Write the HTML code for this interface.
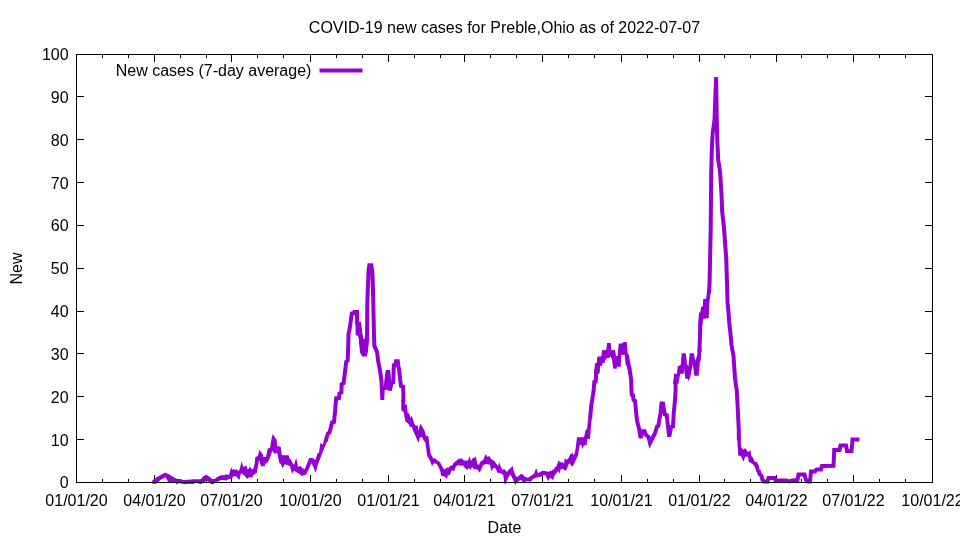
<!DOCTYPE html>
<html lang="en"><head><meta charset="utf-8"><title>COVID-19 new cases for Preble,Ohio</title>
<style>html,body{margin:0;padding:0;background:#fff}body{width:960px;height:540px;overflow:hidden}svg{display:block;will-change:transform}text{font-family:"Liberation Sans", sans-serif;font-size:16px;fill:#000}</style>
</head><body>
<svg width="960" height="540" viewBox="0 0 960 540">
<rect width="960" height="540" fill="#fff"/>
<path d="M154.5 482.5V475.0M154.5 54.5V62.0M231.5 482.5V475.0M231.5 54.5V62.0M310.5 482.5V475.0M310.5 54.5V62.0M388.5 482.5V475.0M388.5 54.5V62.0M464.5 482.5V475.0M464.5 54.5V62.0M542.5 482.5V475.0M542.5 54.5V62.0M621.5 482.5V475.0M621.5 54.5V62.0M699.5 482.5V475.0M699.5 54.5V62.0M776.5 482.5V475.0M776.5 54.5V62.0M853.5 482.5V475.0M853.5 54.5V62.0M102.5 482.5V478.9M102.5 54.5V58.1M128.5 482.5V478.9M128.5 54.5V58.1M180.5 482.5V478.9M180.5 54.5V58.1M206.5 482.5V478.9M206.5 54.5V58.1M257.5 482.5V478.9M257.5 54.5V58.1M283.5 482.5V478.9M283.5 54.5V58.1M336.5 482.5V478.9M336.5 54.5V58.1M362.5 482.5V478.9M362.5 54.5V58.1M414.5 482.5V478.9M414.5 54.5V58.1M440.5 482.5V478.9M440.5 54.5V58.1M490.5 482.5V478.9M490.5 54.5V58.1M516.5 482.5V478.9M516.5 54.5V58.1M568.5 482.5V478.9M568.5 54.5V58.1M594.5 482.5V478.9M594.5 54.5V58.1M647.5 482.5V478.9M647.5 54.5V58.1M673.5 482.5V478.9M673.5 54.5V58.1M724.5 482.5V478.9M724.5 54.5V58.1M750.5 482.5V478.9M750.5 54.5V58.1M801.5 482.5V478.9M801.5 54.5V58.1M827.5 482.5V478.9M827.5 54.5V58.1M879.5 482.5V478.9M879.5 54.5V58.1M905.5 482.5V478.9M905.5 54.5V58.1M76.5 439.5H84.0M932.5 439.5H925.0M76.5 396.5H84.0M932.5 396.5H925.0M76.5 353.5H84.0M932.5 353.5H925.0M76.5 311.5H84.0M932.5 311.5H925.0M76.5 268.5H84.0M932.5 268.5H925.0M76.5 225.5H84.0M932.5 225.5H925.0M76.5 182.5H84.0M932.5 182.5H925.0M76.5 139.5H84.0M932.5 139.5H925.0M76.5 96.5H84.0M932.5 96.5H925.0" stroke="#000" stroke-width="1" fill="none"/>
<g fill="none" stroke="#9400d3" stroke-width="4" stroke-linejoin="miter" stroke-miterlimit="3.8" stroke-linecap="butt">
<polyline points="325.6,441.5 326.5,438.0 328.0,433.5 329.5,432.5 331.0,427.0 332.0,422.5 334.0,422.0 334.5,417.0 335.2,410.0 335.7,403.0 336.2,398.3 338.9,398.3 339.5,393.6 341.4,392.6 341.6,384.2 343.6,383.2 344.5,376.0 345.6,367.0 346.2,361.8 347.7,360.6 347.9,354.0 348.3,344.0 348.5,334.0 349.5,329.3 350.8,320.7 351.8,313.5 353.5,313.2 354.2,312.0 357.0,312.0 357.2,322.7 359.9,334.7 361.0,336.5 361.0,342.7 362.0,352.0 363.4,354.6 365.2,354.6 366.0,350.7 367.0,340.7 367.1,334.0 367.3,304.0 368.0,285.0 368.6,270.0 369.3,265.3 371.3,265.3 372.3,272.0 373.0,290.0 373.3,304.0 374.0,334.0 374.3,345.5 377.2,352.5 378.1,360.7 379.9,370.0 380.7,375.5 381.5,381.5 382.0,392.0 382.3,399.8 382.6,392.0 382.9,388.3 385.8,388.0 386.2,382.0 387.5,372.0 388.4,372.0 389.0,380.0 389.8,390.6 390.5,387.5 391.5,383.0 393.2,382.3 393.5,375.0 393.8,365.3 395.3,365.3 396.0,361.3 397.8,361.3 398.3,366.0 399.2,370.0 400.2,380.0 401.0,386.0 403.0,386.6 403.3,392.0 403.4,402.0"/>
<polyline points="590.2,419.0 590.4,415.0 591.2,406.0 592.7,396.7 593.7,390.0 594.3,382.0 595.7,381.5 596.0,376.5 596.1,371.0 597.7,370.5 597.9,366.0"/>
<polyline points="629.2,366.0 629.7,370.0 631.1,379.3 631.5,390.0 631.7,394.8 633.0,395.2 633.6,400.2 635.0,400.8 635.5,406.0 636.9,420.0 639.3,430.0 640.4,436.4 641.2,436.4 642.6,431.2 644.6,431.2 646.0,435.0 648.5,437.0 650.0,443.0 653.0,437.0 655.0,433.3 657.0,426.7 658.3,426.0 659.3,420.0 660.5,413.3 661.5,403.4 663.0,403.4 664.2,411.0 664.8,414.5 666.8,415.2 667.6,423.0 668.5,431.0 669.3,436.6 670.5,430.0 671.0,427.0 673.0,426.5 673.7,413.3 675.0,400.0 675.6,390.0 675.6,380.0"/>
<polyline points="699.6,352.0 699.6,346.0 700.0,336.0 700.2,324.0"/>
<polyline points="709.0,293.0 709.6,282.0 710.7,228.0 711.2,174.0 711.8,150.0 712.6,134.0 714.5,120.0 716.1,77.0 716.8,120.0 717.3,140.0 718.2,160.0 719.5,168.0 720.2,174.0 721.5,194.0 722.2,212.0 724.0,228.0 725.0,242.0 726.2,258.0 727.0,282.0 727.5,302.0 728.5,312.0 729.2,322.0 730.5,334.0 731.5,345.0 733.5,356.0 734.2,366.0 735.0,378.0 736.0,386.0 736.8,390.0 737.8,410.0 738.8,430.0 738.8,436.0 738.9,440.0"/>
<polyline points="758.6,470.0 759.5,474.0 761.5,476.0 762.5,480.0 764.0,481.5 767.5,481.5 768.5,478.0 774.5,478.0 775.5,480.5 786.0,480.5 789.5,481.5 792.0,480.5 797.5,480.0 798.5,474.5 804.5,474.5 806.0,480.0 807.5,481.5 810.0,481.5 811.0,471.5 815.0,471.5 816.5,469.5 821.0,469.5 822.0,466.0 833.5,465.8 834.2,450.0 839.5,450.0 840.5,445.5 846.0,445.5 847.0,451.0 851.5,451.0 852.5,439.5 857.5,439.5 859.5,439.8"/>
</g>
<g fill="#9400d3" stroke="none">
<polygon points="152.3,480.3 156.7,477.3 160.7,475.0 165.3,472.5 168.7,474.3 172.0,476.3 176.7,478.7 180.0,479.0 183.3,480.0 188.7,479.8 193.3,479.3 200.7,479.3 203.3,476.3 206.0,474.8 208.7,476.0 212.0,479.0 214.7,479.0 217.3,477.0 220.7,475.3 224.7,475.3 225.7,473.9 228.0,475.3 229.3,474.0 230.3,470.0 231.3,467.3 232.3,470.0 233.3,469.0 235.0,470.0 236.3,469.0 238.0,471.0 239.3,470.3 240.7,465.3 241.5,461.3 243.3,467.0 245.7,465.7 246.7,466.0 247.3,469.3 249.0,468.7 249.7,466.3 251.3,468.7 252.7,469.3 253.7,468.0 254.7,463.3 255.3,457.3 258.0,455.7 259.3,449.7 263.0,454.7 263.3,457.0 266.0,457.0 267.7,448.7 270.0,447.7 271.3,440.0 272.7,434.0 276.7,440.0 277.0,446.0 280.7,446.7 281.7,455.0 284.0,455.3 288.7,455.3 289.3,458.3 290.7,459.3 292.7,463.3 294.0,464.7 296.2,458.0 298.0,466.7 301.0,466.0 302.0,468.0 304.7,469.3 306.3,465.3 309.0,458.3 312.3,457.7 315.3,460.0 317.7,453.0 319.0,452.7 320.3,443.0 322.7,444.7 324.0,440.0 327.7,440.0 326.0,444.0 324.0,448.7 320.7,457.3 318.0,464.0 315.7,473.0 313.3,466.7 311.3,463.3 309.3,468.0 306.0,474.7 301.3,476.0 300.7,474.7 297.3,472.7 294.0,470.7 292.0,473.7 290.0,466.3 287.3,465.0 284.7,464.3 282.7,468.3 280.7,463.7 279.3,463.3 277.3,452.7 274.3,453.7 272.3,450.7 271.3,454.0 269.0,460.0 267.3,462.7 265.3,464.0 264.7,466.3 261.0,466.3 259.0,460.0 258.0,466.3 256.7,473.0 253.3,475.0 252.3,477.3 249.0,477.3 247.3,479.0 244.0,475.3 241.0,473.3 239.3,480.3 236.7,476.7 234.0,476.0 231.3,478.7 228.7,479.0 226.0,480.7 224.0,480.0 221.0,480.0 218.0,481.5 215.0,483.2 212.0,484.4 210.0,483.0 208.0,481.3 205.3,481.3 203.3,482.7 200.7,484.3 198.0,483.3 195.3,483.0 192.7,484.3 190.0,483.7 184.7,484.3 182.0,483.7 178.7,483.0 176.7,484.7 175.3,482.5 170.0,482.0 168.0,481.7 167.0,479.7 165.7,477.3 164.0,478.0 160.0,480.3 158.7,481.7 156.0,483.7 152.3,483.7"/>
<polygon points="405.0,400.0 405.3,404.7 406.7,404.3 407.7,412.7 409.7,414.3 410.3,418.0 411.7,415.7 413.3,420.7 414.7,424.7 416.3,426.0 417.7,425.0 418.3,430.7 420.3,423.7 422.7,427.3 424.7,431.0 426.0,436.0 428.3,436.3 430.0,448.7 430.7,454.0 432.0,456.0 433.3,458.7 434.3,458.0 436.7,460.0 440.0,462.3 442.0,466.0 444.3,469.7 447.3,467.3 448.0,468.3 450.0,466.0 452.3,465.3 453.7,462.7 457.3,460.0 459.3,458.3 460.3,459.3 461.7,458.0 463.3,460.3 467.3,460.7 468.3,459.7 469.5,456.0 471.0,460.7 472.7,458.3 474.0,457.3 474.7,458.3 475.5,455.7 476.3,458.7 477.3,464.0 478.7,465.0 480.7,461.3 483.3,460.0 484.7,456.0 485.9,454.0 487.3,457.0 489.2,456.0 491.3,459.3 494.7,461.3 496.0,463.3 498.0,466.0 499.3,462.3 500.7,466.7 502.7,469.7 504.7,469.3 506.7,472.0 508.7,469.7 510.7,468.0 512.5,465.7 513.7,470.7 515.3,475.0 516.7,477.3 518.7,476.0 520.3,474.3 522.7,474.3 524.7,476.7 528.0,477.7 530.7,476.0 534.0,473.7 535.3,470.3 536.3,468.3 538.0,473.3 540.0,472.0 542.7,470.7 546.0,471.3 549.3,471.7 550.3,470.3 551.7,471.3 552.7,469.3 554.0,469.7 554.7,467.3 556.3,466.7 557.7,462.7 558.5,460.3 560.0,462.3 562.7,462.3 564.0,463.7 564.8,457.7 566.3,460.0 568.7,458.0 570.3,454.0 571.3,454.3 572.5,452.3 573.3,455.3 574.7,453.3 575.7,448.0 576.0,445.3 577.0,437.3 580.3,437.2 584.0,437.3 584.7,434.0 585.7,429.7 587.0,429.3 587.7,422.7 588.7,416.0 592.0,416.0 591.0,426.0 590.0,438.7 587.3,439.3 586.7,444.7 583.7,445.7 582.3,449.3 581.3,444.7 579.7,445.3 578.7,450.7 578.0,455.3 576.3,459.3 574.0,464.0 572.3,466.7 570.7,464.7 569.0,463.3 567.3,468.0 565.7,471.0 562.7,468.7 560.7,469.3 559.5,473.7 558.3,471.0 556.7,472.7 554.3,476.0 553.0,480.7 552.0,478.7 549.7,478.0 548.3,481.3 547.3,479.3 545.3,475.3 542.7,474.7 540.7,477.0 537.3,477.3 533.3,478.7 530.7,481.7 527.3,481.3 524.7,482.0 522.3,481.7 521.3,479.7 519.3,480.7 517.0,482.3 515.3,485.0 514.0,482.0 512.0,477.3 510.3,474.7 508.7,476.7 506.7,481.3 505.0,485.0 504.0,481.3 503.3,475.0 500.7,473.3 497.3,472.7 495.7,468.3 493.3,468.0 491.3,471.3 490.0,464.7 486.0,464.0 483.3,465.0 481.3,469.3 479.7,472.7 478.0,470.3 476.0,469.0 474.0,469.3 472.0,467.0 470.3,470.0 468.7,467.7 467.3,470.0 464.7,467.7 462.7,465.3 460.7,466.0 458.7,465.0 456.0,466.3 454.3,471.0 451.7,470.3 449.7,475.3 448.0,475.0 447.0,478.7 444.0,476.3 441.3,476.0 440.3,471.3 438.7,467.3 436.7,464.0 434.0,463.3 432.0,466.0 430.0,460.7 428.0,457.3 427.3,456.3 425.3,442.3 423.3,440.3 422.3,437.0 420.0,437.3 418.3,443.0 415.0,434.7 412.7,430.0 412.0,427.0 409.7,426.7 408.7,424.0 405.3,421.3 403.7,412.3 401.3,410.3 401.3,400.0"/>
<polygon points="740.7,436.0 741.0,446.7 743.3,449.7 745.0,448.0 748.0,452.0 750.5,450.0 751.3,456.0 752.7,457.3 754.7,461.7 756.7,462.0 758.7,465.3 759.7,470.7 761.0,472.0 756.3,472.0 755.0,467.3 752.7,464.0 748.7,461.7 748.0,456.7 745.0,456.7 743.7,461.7 740.7,455.7 738.3,455.7 737.7,446.0 737.0,436.0"/>
<polygon points="355.3,312.0 358.3,310.0 359.0,321.7 361.0,322.0 361.7,327.3 362.7,337.3 363.3,338.7 362.5,345.0 359.5,345.0 359.0,340.0 358.0,335.7 355.7,335.3"/>
<polygon points="362.5,338.7 365.5,338.7 365.5,352.0 362.5,352.0"/>
<polygon points="698.0,326.0 699.0,312.3 700.3,312.7 701.3,306.3 702.7,307.0 703.2,299.0 706.0,298.7 707.3,290.0 711.0,290.0 709.3,303.3 708.7,318.0 703.3,319.0 702.3,326.0"/>
<polygon points="594.0,374.0 595.0,363.3 596.7,363.0 597.3,356.7 601.3,356.3 602.0,350.3 606.3,350.0 607.0,343.0 610.7,343.0 611.3,350.0 613.7,350.3 615.0,349.7 616.0,356.0 617.7,355.7 618.7,343.7 622.7,343.3 623.3,342.1 626.7,342.1 627.7,353.7 628.7,354.3 630.0,361.3 631.3,368.7 632.0,374.0 628.7,374.0 627.0,366.0 625.7,365.3 624.7,354.7 621.3,355.0 620.7,366.7 617.0,366.7 616.7,368.8 613.3,368.7 612.0,360.0 610.7,356.3 609.7,357.7 607.0,358.0 605.3,360.3 604.7,362.7 602.7,363.0 602.0,365.7 600.0,366.0 599.3,374.0"/>
<polygon points="673.0,384.0 674.3,373.3 677.0,374.3 677.7,366.3 680.7,365.0 681.7,353.3 685.7,353.2 687.0,363.7 688.3,366.7 689.7,353.7 690.0,353.2 694.0,353.2 695.0,360.7 696.3,358.0 697.3,354.7 697.7,348.0 701.3,348.0 700.7,360.7 700.0,361.0 699.7,364.0 698.7,375.7 694.3,375.7 692.7,364.0 691.7,370.0 690.3,376.7 688.7,381.3 687.7,378.8 685.3,378.7 684.3,369.3 683.7,373.7 680.7,373.7 680.0,374.7 678.3,384.0"/>
</g>
<path d="M319.5 70.4H362.5" stroke="#9400d3" stroke-width="4" fill="none"/>
<rect x="76.5" y="54.5" width="856.0" height="428.0" fill="none" stroke="#000" stroke-width="1"/>
<text x="504.5" y="32.8" text-anchor="middle">COVID-19 new cases for Preble,Ohio as of 2022-07-07</text>
<text x="311.4" y="75.5" text-anchor="end">New cases (7-day average)</text>
<text x="68.6" y="488.0" text-anchor="end">0</text>
<text x="68.6" y="446.0" text-anchor="end">10</text>
<text x="68.6" y="403.0" text-anchor="end">20</text>
<text x="68.6" y="360.0" text-anchor="end">30</text>
<text x="68.6" y="317.0" text-anchor="end">40</text>
<text x="68.6" y="274.0" text-anchor="end">50</text>
<text x="68.6" y="231.0" text-anchor="end">60</text>
<text x="68.6" y="189.0" text-anchor="end">70</text>
<text x="68.6" y="146.0" text-anchor="end">80</text>
<text x="68.6" y="103.0" text-anchor="end">90</text>
<text x="68.6" y="60.0" text-anchor="end">100</text>
<text x="76.5" y="505.7" text-anchor="middle">01/01/20</text>
<text x="154.5" y="505.7" text-anchor="middle">04/01/20</text>
<text x="231.5" y="505.7" text-anchor="middle">07/01/20</text>
<text x="310.5" y="505.7" text-anchor="middle">10/01/20</text>
<text x="388.5" y="505.7" text-anchor="middle">01/01/21</text>
<text x="464.5" y="505.7" text-anchor="middle">04/01/21</text>
<text x="542.5" y="505.7" text-anchor="middle">07/01/21</text>
<text x="621.5" y="505.7" text-anchor="middle">10/01/21</text>
<text x="699.5" y="505.7" text-anchor="middle">01/01/22</text>
<text x="776.5" y="505.7" text-anchor="middle">04/01/22</text>
<text x="853.5" y="505.7" text-anchor="middle">07/01/22</text>
<text x="932.5" y="505.7" text-anchor="middle">10/01/22</text>
<text x="504.5" y="532.8" text-anchor="middle">Date</text>
<text transform="translate(21.8 268.5) rotate(-90)" text-anchor="middle">New</text>
</svg></body></html>
